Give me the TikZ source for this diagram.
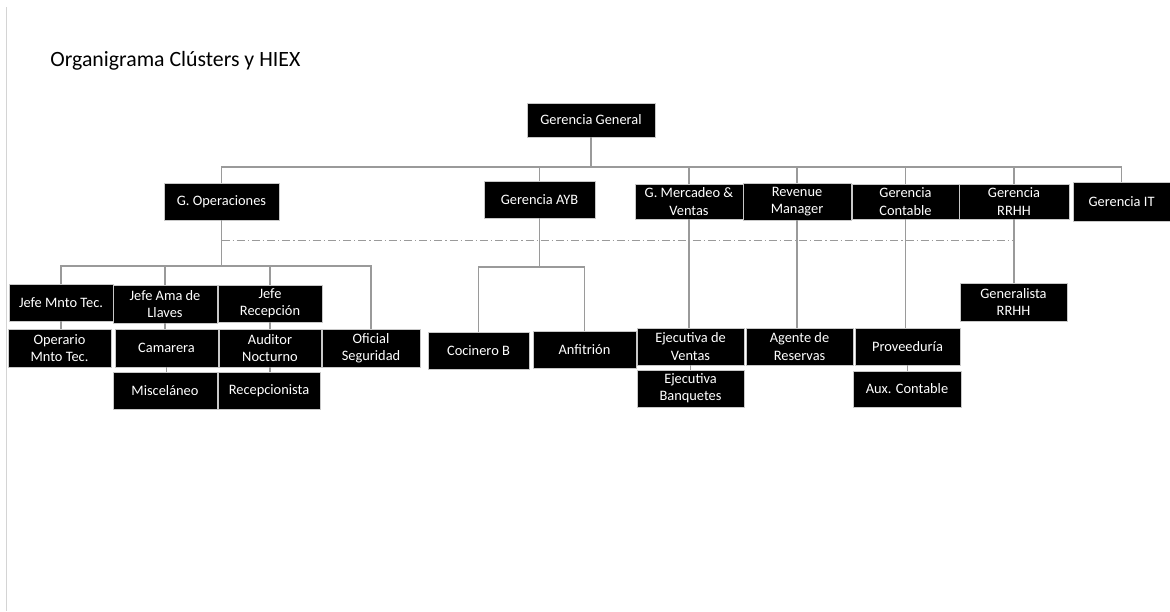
\documentclass[tikz,border=0pt]{standalone}
\usepackage{fontspec}
\setmainfont{Carlito}
\definecolor{linegray}{HTML}{9A9A9A}
\definecolor{edgegray}{HTML}{C8C8C8}
\definecolor{framegray}{HTML}{D4D4D4}

\begin{document}
\begin{tikzpicture}[x=0.5pt, y=-0.5pt,
      box/.style = {shape=rectangle, fill=black, draw=edgegray,
        line width=0.4pt, text=white, align=center, inner sep=0pt,
        font=\fontsize{7.2}{8.6}\selectfont,
        minimum width=52pt, minimum height=18.5pt},
      link/.style = {draw=linegray, line width=0.6pt},
      dashline/.style = {draw=linegray, line width=0.5pt,
        dash pattern=on 4pt off 1.5pt on 0.6pt off 1.5pt}]
  \useasboundingbox (0,0) rectangle (1170,611);
  \draw[framegray, line width=0.8pt] (6.5,7) -- (6.5,611);
  \node[anchor=base west, inner sep=0pt,
    font=\fontsize{10.9}{13}\selectfont] (title) at (50,66)
    {Organigrama Clústers y HIEX};

  \node[box, minimum width=64pt, minimum height=17pt] (gg) at (591,120) {Gerencia General};
  \node[box, minimum width=57.5pt] (gop) at (221.5,201.5) {G. Operaciones};
  \node[box, minimum width=55.5pt] (ayb) at (539.5,199.5) {Gerencia AYB};
  \node[box, minimum width=54pt, minimum height=17.5pt] (mer) at (689,201.5) {G. Mercadeo \&\\Ventas};
  \node[box, minimum width=54pt] (rev) at (797,201.5) {Revenue\\Manager};
  \node[box, minimum width=53.5pt, minimum height=17.5pt] (con) at (905.5,201.5) {Gerencia\\Contable};
  \node[box, minimum width=55pt, minimum height=17.5pt] (rrhh) at (1014,201.5) {Gerencia\\RRHH};
  \node[box, minimum width=48.5pt, minimum height=19.5pt] (git) at (1121.5,201.5) {Gerencia IT};

  \node[box] (jmt) at (61,302.5) {Jefe Mnto Tec.};
  \node[box, minimum height=19pt] (jal) at (165,304) {Jefe Ama de\\Llaves};
  \node[box] (jre) at (270,303.5) {Jefe\\Recepción};
  \node[box, minimum width=51.5pt, minimum height=19pt] (omt) at (59.5,348) {Operario\\Mnto Tec.};
  \node[box, minimum width=51.5pt, minimum height=19pt] (cam) at (166.5,348) {Camarera};
  \node[box, minimum width=51pt, minimum height=19pt] (aud) at (270,348) {Auditor\\Nocturno};
  \node[box, minimum width=49pt, minimum height=19pt] (ofs) at (371,348) {Oficial\\Seguridad};
  \node[box] (mis) at (165,390.5) {Misceláneo};
  \node[box, minimum width=51pt] (rec) at (269,390.5) {Recepcionista};

  \node[box, minimum width=50.5pt] (coc) at (478.5,350.5) {Cocinero B};
  \node[box, minimum width=51.5pt] (anf) at (584.5,349.5) {Anfitrión};

  \node[box, minimum width=53.5pt] (ejv) at (690.5,346.5) {Ejecutiva de\\Ventas};
  \node[box, minimum width=53.5pt] (ejb) at (690.5,388.5) {Ejecutiva\\Banquetes};
  \node[box, minimum width=53.5pt] (agr) at (799.5,346.5) {Agente de\\Reservas};
  \node[box, minimum width=52.5pt] (prv) at (907.5,346.5) {Proveeduría};
  \node[box, minimum width=54pt, minimum height=18pt] (aux) at (907,389) {Aux. Contable};
  \node[box, minimum width=53.5pt, minimum height=19pt] (gen) at (1013.5,302) {Generalista\\RRHH};

  \coordinate (bus) at (591,167);
  \draw[link] (gg) -- (bus);
  \draw[link] (gop.north) |- (bus) -| (git.north);
  \foreach \n in {ayb,mer,rev,con,rrhh}
    \draw[link] (\n.north) -- (\n.north |- bus);

  \coordinate (dl) at (0,240);
  \draw[dashline] (gop.south |- dl) -- (rrhh.south |- dl);

  \coordinate (opbus) at (221.5,266);
  \draw[link] (gop.south) -- (opbus);
  \draw[link] (jmt.north) |- (opbus) -| (ofs.north);
  \foreach \n in {jal,jre}
    \draw[link] (\n.north) -- (\n.north |- opbus);
  \draw[link] (jmt.south) -- (jmt.south |- omt.north);
  \draw[link] (jal.south) -- (jal.south |- cam.north);
  \draw[link] (cam.south) -- (cam.south |- mis.north);
  \draw[link] (jre.south) -- (jre.south |- aud.north);
  \draw[link] (aud.south) -- (aud.south |- rec.north);

  \coordinate (aybbus) at (539.5,267);
  \draw[link] (ayb.south) -- (aybbus);
  \draw[link] (coc.north) |- (aybbus) -| (anf.north);

  \draw[link] (mer.south) -- (mer.south |- ejv.north);
  \draw[link] (ejv.south) -- (ejv.south |- ejb.north);
  \draw[link] (rev.south) -- (rev.south |- agr.north);
  \draw[link] (con.south) -- (con.south |- prv.north);
  \draw[link] (prv.south) -- (prv.south |- aux.north);
  \draw[link] (rrhh.south) -- (rrhh.south |- gen.north);
\end{tikzpicture}
\end{document}
